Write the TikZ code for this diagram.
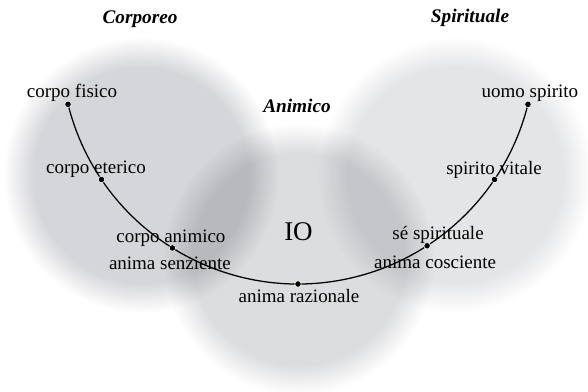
\documentclass[tikz,border=0pt]{standalone}
\usepackage{fontspec}
\setmainfont{Liberation Serif}
\usepackage{tikz}
\usetikzlibrary{calc,positioning,backgrounds}

\definecolor{discL}{RGB}{213,214,217}
\definecolor{discM}{RGB}{220,221,223}
\definecolor{discR}{RGB}{228,229,231}
\pgfdeclareradialshading{softL}{\pgfpoint{0bp}{0bp}}{color(0bp)=(discL); color(19.5bp)=(discL); color(25bp)=(white); color(50bp)=(white)}
\pgfdeclareradialshading{softM}{\pgfpoint{0bp}{0bp}}{color(0bp)=(discM); color(19.5bp)=(discM); color(25bp)=(white); color(50bp)=(white)}
\pgfdeclareradialshading{softR}{\pgfpoint{0bp}{0bp}}{color(0bp)=(discR); color(19.5bp)=(discR); color(25bp)=(white); color(50bp)=(white)}

\tikzset{
  dot/.style={circle, fill=black, draw=white, line width=0.4pt, inner sep=0pt, minimum size=4.6pt},
  lbl/.style={inner sep=0pt, anchor=base, font=\fontsize{13.5}{16}\selectfont},
  head/.style={inner sep=0pt, anchor=base, font=\fontsize{13.7}{16}\selectfont\bfseries\itshape},
  curve/.style={line width=0.9pt}
}

\begin{document}
\begin{tikzpicture}[x=0.025cm, y=0.025cm]
\useasboundingbox (0,0) rectangle (588,392);

% points on the arc
\coordinate (c) at (298,345);
\node[dot] (fis) at ($(c)+(194:237)$) {};
\node[dot] (ete) at ($(c)+(214:237)$) {};
\node[dot] (ani) at ($(c)+(238:237)$) {};
\node[dot] (raz) at ($(c)+(270:237)$) {};
\node[dot] (spi) at ($(c)+(303:237)$) {};
\node[dot] (vit) at ($(c)+(326:237)$) {};
\node[dot] (uom) at ($(c)+(346:237)$) {};

\begin{pgfonlayer}{background}
\begin{scope}[blend mode=multiply]
\shade[shading=softL] (141,217) circle[radius=138];
\shade[shading=softM] (299,133) circle[radius=136];
\shade[shading=softR] (455,217) circle[radius=138];
\end{scope}
\draw[curve] (fis.center) arc[start angle=194, end angle=346, radius=237];
\end{pgfonlayer}

\node[lbl] (tfis) at ($(fis)+(4,7)$) {corpo fisico};
\node[lbl] (tete) at ($(ete)+(-5.5,6.5)$) {corpo eterico};
\node[lbl] (tani) at ($(ani)+(-1.5,5)$) {corpo animico};
\node[lbl] (tsen) at ($(ani)+(-2.5,-22)$) {anima senziente};
\node[lbl] (traz) at ($(raz)+(1,-19)$) {anima razionale};
\node[lbl] (tspi) at ($(spi)+(11,6)$) {sé spirituale};
\node[lbl] (tcos) at ($(spi)+(8,-23)$) {anima cosciente};
\node[lbl] (tvit) at ($(vit)+(-0.5,5.5)$) {spirito vitale};
\node[lbl] (tuom) at ($(uom)+(2,7)$) {uomo spirito};

\node[head] (hcor) at (140,368) {Corporeo};
\node[head] (hani) at (297,279) {Animico};
\node[head] (hspi) at (470,369) {Spirituale};
\node[lbl, font=\fontsize{19.2}{22}\selectfont] (io) at (298.5,151) {IO};
\end{tikzpicture}
\end{document}
